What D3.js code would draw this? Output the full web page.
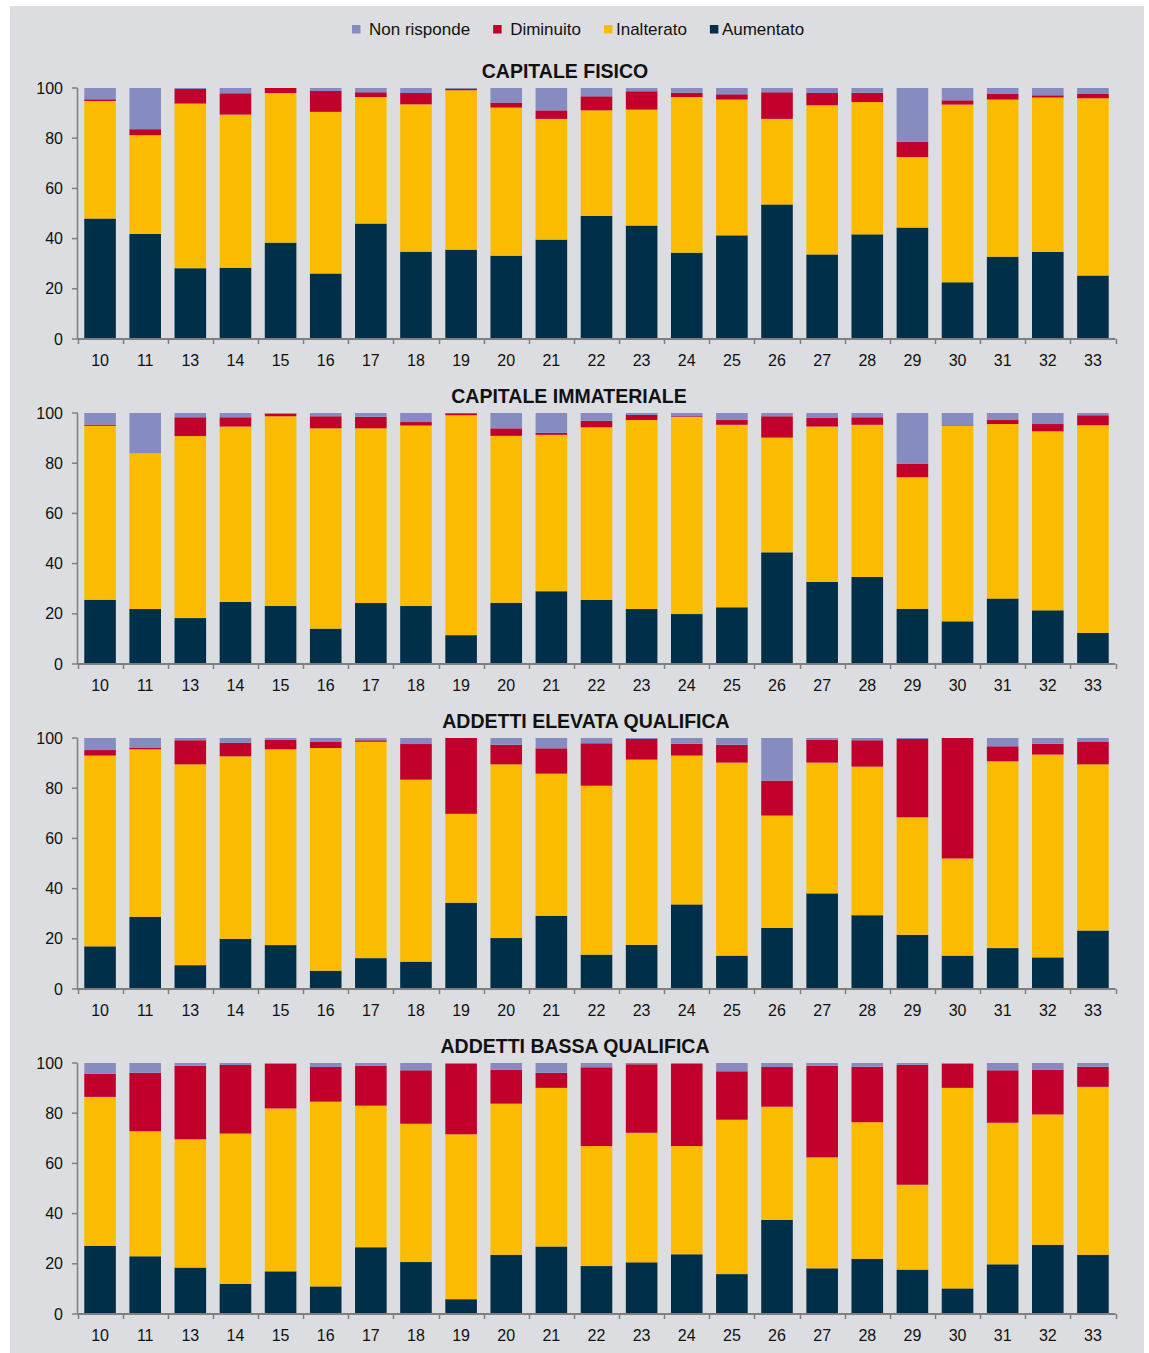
<!DOCTYPE html>
<html>
<head>
<meta charset="utf-8">
<script src="https://cdn.jsdelivr.net/npm/d3@7"></script>
<style>
  body { margin: 0; background: #fff; }
  text { font-family: Arial, "Liberation Sans", sans-serif; }
</style>
</head>
<body>
<svg id="chart" width="1149" height="1353"></svg>
<script>
const categories = ['10', '11', '13', '14', '15', '16', '17', '18', '19', '20', '21', '22',
  '23', '24', '25', '26', '27', '28', '29', '30', '31', '32', '33'];
const seriesNames = ['Aumentato', 'Inalterato', 'Diminuito', 'Non risponde'];
const legendOrder = ['Non risponde', 'Diminuito', 'Inalterato', 'Aumentato'];
const seriesColors = ['#003049', '#fbbb00', '#c1002b', '#878cc0'];
const panelTitles = ['CAPITALE FISICO', 'CAPITALE IMMATERIALE', 'ADDETTI ELEVATA QUALIFICA', 'ADDETTI BASSA QUALIFICA'];
const yTicks = [0, 20, 40, 60, 80, 100];

// capitale fisico
const fisicoAumentato = [48.0, 41.9, 28.2, 28.4, 38.4, 26.1, 46.0, 34.8, 35.6, 33.2, 39.6, 49.1, 45.2, 34.4, 41.3, 53.6, 33.7, 41.7, 44.4, 22.6, 32.8, 34.7, 25.3];
const fisicoInalterato = [46.8, 39.3, 65.6, 61.0, 59.6, 64.4, 50.4, 58.7, 63.5, 59.0, 48.1, 42.0, 46.2, 62.0, 54.1, 34.1, 59.4, 52.7, 28.1, 70.8, 62.6, 61.5, 70.6];
const fisicoDiminuito = [0.7, 2.4, 5.8, 8.5, 2.0, 8.3, 1.9, 4.5, 0.5, 2.0, 3.4, 5.6, 7.3, 1.7, 2.1, 10.6, 4.9, 3.7, 6.1, 1.7, 2.2, 0.9, 1.9];
const fisicoNonRisponde = [4.5, 16.4, 0.4, 2.1, 0, 1.2, 1.7, 2.0, 0.4, 5.8, 8.9, 3.3, 1.3, 1.9, 2.5, 1.7, 2.0, 1.9, 21.4, 4.9, 2.4, 2.9, 2.2];

// capitale immateriale
const immatAumentato = [25.6, 21.9, 18.3, 24.7, 23.1, 14.1, 24.3, 23.1, 11.5, 24.4, 29.0, 25.5, 21.9, 19.9, 22.6, 44.5, 32.7, 34.7, 22.0, 17.0, 26.1, 21.4, 12.4];
const immatInalterato = [69.3, 62.0, 72.5, 69.9, 75.6, 79.8, 69.6, 71.9, 87.6, 66.5, 62.3, 68.8, 75.3, 78.5, 72.7, 45.7, 61.9, 60.6, 52.4, 77.9, 69.5, 71.3, 82.7];
const immatDiminuito = [0.5, 0, 7.5, 3.7, 1.0, 4.8, 4.6, 1.4, 0.8, 3.0, 0.8, 2.6, 2.0, 0.3, 1.9, 8.5, 3.4, 3.0, 5.3, 0.2, 1.6, 2.9, 4.0];
const immatNonRisponde = [4.6, 16.1, 1.7, 1.7, 0.3, 1.3, 1.5, 3.6, 0.1, 6.1, 7.9, 3.1, 0.8, 1.3, 2.8, 1.3, 2.0, 1.7, 20.3, 4.9, 2.8, 4.4, 0.9];

// addetti elevata qualifica
const elevataAumentato = [17.0, 28.8, 9.5, 20.0, 17.5, 7.3, 12.3, 10.9, 34.4, 20.3, 29.2, 13.7, 17.6, 33.7, 13.3, 24.3, 38.1, 29.4, 21.6, 13.3, 16.3, 12.6, 23.3];
const elevataInalterato = [76.0, 66.7, 80.0, 72.7, 78.0, 88.7, 86.2, 72.5, 35.4, 69.2, 56.6, 67.3, 73.8, 59.3, 76.9, 44.8, 52.1, 59.2, 46.8, 38.7, 74.4, 80.8, 66.2];
const elevataDiminuito = [2.2, 0.7, 9.6, 5.4, 3.8, 2.4, 0.6, 14.2, 30.2, 7.8, 10.1, 16.9, 8.2, 4.7, 7.1, 13.9, 9.1, 10.5, 31.2, 48.0, 6.0, 4.3, 8.9];
const elevataNonRisponde = [4.8, 3.8, 0.9, 1.9, 0.7, 1.6, 0.9, 2.4, 0, 2.7, 4.1, 2.1, 0.4, 2.3, 2.7, 17.0, 0.7, 0.9, 0.4, 0, 3.3, 2.3, 1.6];

// addetti bassa qualifica
const bassaAumentato = [27.2, 23.0, 18.5, 12.0, 17.0, 11.0, 26.6, 20.7, 5.9, 23.6, 26.9, 19.1, 20.6, 23.8, 15.9, 37.5, 18.2, 22.0, 17.7, 10.2, 19.8, 27.6, 23.6];
const bassaInalterato = [59.3, 49.8, 51.1, 59.9, 64.9, 73.6, 56.4, 55.1, 65.7, 60.2, 63.2, 47.8, 51.6, 43.1, 61.5, 45.1, 44.2, 54.4, 33.8, 79.9, 56.4, 51.9, 66.9];
const bassaDiminuito = [9.2, 23.3, 29.3, 27.3, 17.8, 13.8, 15.9, 21.3, 28.0, 13.5, 6.0, 31.4, 27.3, 32.7, 19.3, 15.8, 36.5, 22.1, 47.8, 9.6, 20.9, 17.8, 8.0];
const bassaNonRisponde = [4.3, 3.9, 1.1, 0.8, 0.3, 1.6, 1.1, 2.9, 0.4, 2.7, 3.9, 1.7, 0.5, 0.4, 3.3, 1.6, 1.1, 1.5, 0.7, 0.3, 2.9, 2.7, 1.5];

const panels = [
  [fisicoAumentato, fisicoInalterato, fisicoDiminuito, fisicoNonRisponde],
  [immatAumentato, immatInalterato, immatDiminuito, immatNonRisponde],
  [elevataAumentato, elevataInalterato, elevataDiminuito, elevataNonRisponde],
  [bassaAumentato, bassaInalterato, bassaDiminuito, bassaNonRisponde],
];

// small stand-in for d3-selection-multi's .attrs()
d3.selection.prototype.attrs = function (obj) {
  if (typeof obj === 'function') {
    return this.each(function (d, i, nodes) {
      const o = obj.call(this, d, i, nodes);
      for (const k in o) this.setAttribute(k, o[k]);
    });
  }
  for (const k in obj) this.attr(k, obj[k]);
  return this;
};

main();

function main () {
  const svg = d3.select('svg#chart');

  svg.append('rect').attrs({ x: 10, y: 6, width: 1134, height: 1347, fill: '#dcdde0' });

  drawLegend(svg);

  const x = d3.scaleBand()
    .domain(categories)
    .range([77.5, 1115.5])
    .paddingInner(0.3)
    .paddingOuter(0.15);

  // titles are not exactly centred in the original
  const titleCenters = [565, 569, 586, 575];

  panels.forEach((series, p_idx) => {
    const top = 88 + p_idx * 325;
    const h = 251;
    drawPanel(svg, x, top, h, panelTitles[p_idx], titleCenters[p_idx], series);
  });
}

function drawLegend (svg) {
  const g = svg.append('g');
  const textGap = [17, 17, 12, 12];
  let cx = 352;
  legendOrder.forEach((name, i) => {
    const color = seriesColors[seriesNames.indexOf(name)];
    g.append('rect').attrs({ x: cx, y: 25, width: 8.5, height: 8.5, fill: color });
    const t = g.append('text').text(name).attrs({
      x: cx + textGap[i], y: 34.5, 'font-size': '17px', fill: '#111'
    });
    cx += textGap[i] + t.node().getComputedTextLength() + 23;
  });
}

function drawPanel (svg, x, top, h, title, titleX, series) {
  const y = d3.scaleLinear().domain([0, 100]).range([top + h, top]);

  const rows = categories.map((c, i) => {
    const row = { cat: c };
    seriesNames.forEach((s, k) => { row[s] = series[k][i]; });
    return row;
  });
  const stacked = d3.stack().keys(seriesNames)(rows);

  svg.append('text').text(title).attrs({
    x: titleX, y: top - 10, 'text-anchor': 'middle',
    'font-size': '19.5px', 'font-weight': 'bold', fill: '#111'
  });

  const g = svg.append('g');
  stacked.forEach((layer, k) => {
    g.selectAll(null)
      .data(layer)
      .enter()
      .append('rect')
      .attrs(d => ({
        x: x(d.data.cat),
        y: y(Math.min(d[1], 100)),
        width: x.bandwidth(),
        height: Math.max(0, y(d[0]) - y(Math.min(d[1], 100))),
        fill: seriesColors[k],
      }));
  });

  // y axis
  const axisColor = '#7f7f7f';
  svg.append('line').attrs({
    x1: 77.5, x2: 77.5, y1: top, y2: top + h, stroke: axisColor, 'stroke-width': 1.5
  });
  yTicks.forEach(v => {
    svg.append('line').attrs({
      x1: 72, x2: 77.5, y1: y(v), y2: y(v), stroke: axisColor, 'stroke-width': 1.5
    });
    svg.append('text').text(v).attrs({
      x: 63, y: y(v) + 5.5, 'text-anchor': 'end', 'font-size': '16px', fill: '#111'
    });
  });

  // x axis
  svg.append('line').attrs({
    x1: 77.5, x2: 1115.5, y1: top + h, y2: top + h, stroke: axisColor, 'stroke-width': 2
  });
  const step = x.step();
  const x0 = x(categories[0]) - x.paddingOuter() * step;
  for (let i = 0; i <= categories.length; i++) {
    const tx = Math.round(x0 + i * step) + 0.5;
    svg.append('line').attrs({
      x1: tx, x2: tx, y1: top + h, y2: top + h + 5, stroke: axisColor, 'stroke-width': 1.5
    });
  }
  categories.forEach(c => {
    svg.append('text').text(c).attrs({
      x: x(c) + x.bandwidth() / 2, y: top + h + 27, 'text-anchor': 'middle',
      'font-size': '16px', fill: '#111'
    });
  });
}
</script>
</body>
</html>
